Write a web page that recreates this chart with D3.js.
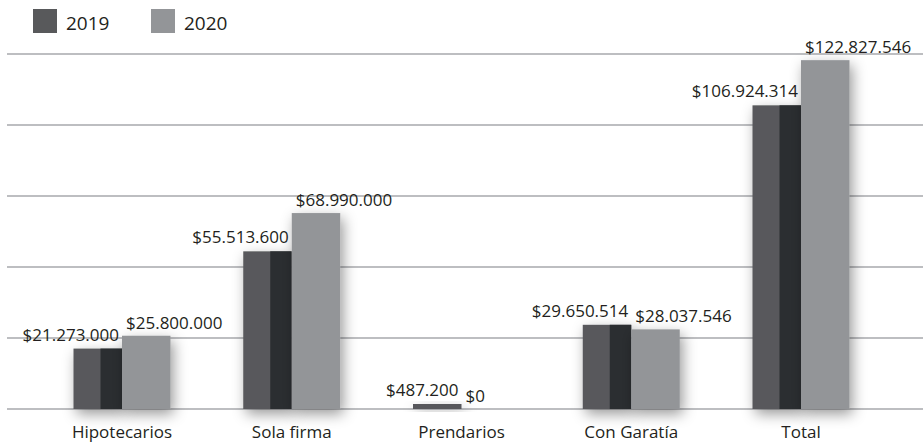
<!DOCTYPE html>
<html>
<head>
<meta charset="utf-8">
<script src="https://cdn.jsdelivr.net/npm/d3@7"></script>
<style>
  body { margin: 0; background: #fff; }
  text { font-family: "Open Sans", sans-serif; fill: #231f20; }
</style>
</head>
<body>
<div id="chart"></div>
<script>
// Data
const categories = ["Hipotecarios", "Sola firma", "Prendarios", "Con Garatía", "Total"];
const series = ["2019", "2020"];
const values2019 = [21273000, 55513600, 487200, 29650514, 106924314];
const values2020 = [25800000, 68990000, 0, 28037546, 122827546];
const gridTicks = [0, 25e6, 50e6, 75e6, 100e6, 125e6];

const width = 923;
const height = 443;

const colors = { "2019": "#58595b", "2020": "#939598" };
const darkSide = "#2b2e31";

const fmt = (v) => "$" + d3.format(",")(v).replace(/,/g, ".");

let svg = d3
    .select("#chart")
    .append("svg")
    .attr("width", width)
    .attr("height", height);

// soft shadow behind the bars
let defs = svg.append("defs");
let shadow = defs.append("filter")
    .attr("id", "shadow")
    .attr("x", "-60%").attr("y", "-60%")
    .attr("width", "220%").attr("height", "220%");
shadow.append("feDropShadow")
    .attr("dx", 3).attr("dy", 5)
    .attr("stdDeviation", 7)
    .attr("flood-color", "#000")
    .attr("flood-opacity", 0.4);

let x = d3.scalePoint()
    .domain(categories)
    .range([122, 801]);

let xs = d3.scaleBand()
    .domain(series)
    .range([-48.5, 48.5]);

let y = d3.scaleLinear()
    .domain([0, 125e6])
    .range([409, 54]);

// bars with a tiny value still get a visible sliver
const barTop = (v) => (v > 0 ? Math.min(y(v), y(0) - 5) : y(0));

// gridlines
svg.append("g")
    .selectAll("line")
    .data(gridTicks)
    .join("line")
    .attr("x1", 7)
    .attr("x2", width)
    .attr("y1", (d) => y(d))
    .attr("y2", (d) => y(d))
    .attr("stroke", "#a7a9ac")
    .attr("stroke-width", 1.6);

const rows = categories.map((c, i) => ({ cat: c, v2019: values2019[i], v2020: values2020[i] }));

let groups = svg.append("g")
    .selectAll("g")
    .data(rows)
    .join("g")
    .attr("transform", (d) => "translate(" + x(d.cat) + ",0)");

// 2019 bar: light face with a dark right side
groups.append("rect")
    .attr("x", xs("2019"))
    .attr("y", (d) => barTop(d.v2019))
    .attr("width", xs.bandwidth())
    .attr("height", (d) => y(0) - barTop(d.v2019))
    .attr("fill", colors["2019"])
    .attr("filter", "url(#shadow)");

groups.filter((d) => d.v2019 > 5e6)
    .append("rect")
    .attr("x", xs("2019") + 27)
    .attr("y", (d) => barTop(d.v2019))
    .attr("width", xs.bandwidth() - 27)
    .attr("height", (d) => y(0) - barTop(d.v2019))
    .attr("fill", darkSide);

groups.append("rect")
    .attr("x", xs("2020"))
    .attr("y", (d) => barTop(d.v2020))
    .attr("width", xs.bandwidth())
    .attr("height", (d) => y(0) - barTop(d.v2020))
    .attr("fill", colors["2020"])
    .attr("filter", "url(#shadow)");

// value labels
groups.append("text")
    .attr("x", -3)
    .attr("y", (d) => barTop(d.v2019) - 8)
    .attr("text-anchor", "end")
    .attr("font-size", 17)
    .text((d) => fmt(d.v2019));

groups.append("text")
    .attr("x", 4)
    .attr("y", (d) => barTop(d.v2020) - 7)
    .attr("text-anchor", "start")
    .attr("font-size", 17)
    .text((d) => fmt(d.v2020));

// category labels
groups.append("text")
    .attr("x", 0)
    .attr("y", 438)
    .attr("text-anchor", "middle")
    .attr("font-size", 17)
    .text((d) => d.cat);

// legend
let legend = svg.append("g")
    .selectAll("g")
    .data(series)
    .join("g")
    .attr("transform", (d, i) => "translate(" + (33 + i * 118) + ",9)");

legend.append("rect")
    .attr("width", 24)
    .attr("height", 24)
    .attr("fill", (d) => colors[d]);

legend.append("text")
    .attr("x", 33)
    .attr("y", 21)
    .attr("font-size", 19)
    .text((d) => d);
</script>
</body>
</html>
